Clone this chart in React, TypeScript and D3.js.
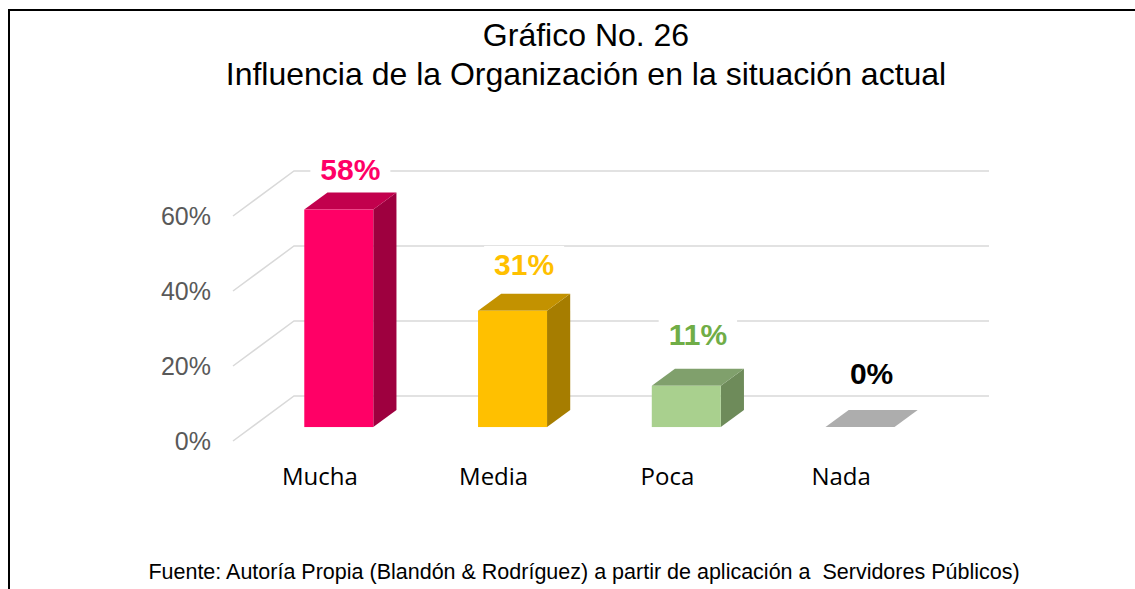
import React, { useEffect, useRef } from "react";
import * as d3 from "d3";

const categories = ["Mucha", "Media", "Poca", "Nada"];
const values = [58, 31, 11, 0];
const yTicks = [0, 20, 40, 60];

const palette = [
  { front: "#FF0066", side: "#9E003F", top: "#C2004D", label: "#FF0066" },
  { front: "#FFC000", side: "#A67D00", top: "#C39200", label: "#FFC000" },
  { front: "#A9D08E", side: "#6E8B5A", top: "#80A06C", label: "#70AD47" },
  { front: "#BFBFBF", side: "#8C8C8C", top: "#ADADAD", label: "#000000" },
];

const W = 1135;
const H = 589;

const Chart = () => {
  const ref = useRef<SVGSVGElement>(null);

  useEffect(() => {
    const svg = d3.select(ref.current);
    svg.selectAll("*").remove();

    // front plane of the 3d box
    const x = d3.scaleBand().domain(categories).range([233, 928]);
    const y = d3.scaleLinear().domain([0, 60]).range([441, 216]);
    // oblique depth offset
    const depth = { dx: 61, dy: -45 };
    const zFront = 0.31;
    const zBack = 0.69;
    const barW = 69;
    // labels are pulled a little by the perspective
    const labelY = d3.scaleLinear().domain([0, 58]).range([384, 180]);

    // frame
    svg
      .append("path")
      .attr("d", `M9,${H} L9,10 L${W},10`)
      .attr("fill", "none")
      .attr("stroke", "#000")
      .attr("stroke-width", 2);

    // titles
    const titles = ["Gráfico No. 26", "Influencia de la Organización en la situación actual"];
    svg
      .selectAll("text.title")
      .data(titles)
      .enter()
      .append("text")
      .attr("class", "title")
      .attr("x", 586)
      .attr("y", (d, i) => 46 + i * 39)
      .attr("text-anchor", "middle")
      .attr("font-family", "'Liberation Sans Narrow', 'Arial Narrow', 'Liberation Sans', sans-serif")
      .attr("font-size", 32)
      .attr("fill", "#000")
      .text((d) => d);

    // gridlines: diagonal on the side wall then across the back wall
    const grid = svg.append("g");
    yTicks.forEach((t) => {
      const y0 = y(t);
      grid
        .append("path")
        .attr(
          "d",
          `M${x.range()[0]},${y0} L${x.range()[0] + depth.dx},${y0 + depth.dy} L${x.range()[1] + depth.dx},${y0 + depth.dy}`
        )
        .attr("fill", "none")
        .attr("stroke", "#D9D9D9")
        .attr("stroke-width", 1.5);
    });

    // y tick labels
    svg
      .selectAll("text.ytick")
      .data(yTicks)
      .enter()
      .append("text")
      .attr("class", "ytick")
      .attr("x", 211)
      .attr("y", (d) => y(d) + 9)
      .attr("text-anchor", "end")
      .attr("font-family", "'Liberation Sans', Arial, sans-serif")
      .attr("font-size", 25)
      .attr("fill", "#595959")
      .text((d) => d + "%");

    // bars
    const bars = svg.append("g");
    categories.forEach((c, i) => {
      const v = values[i];
      const cx = x(c)! + x.bandwidth() / 2;
      const fx0 = cx - barW / 2 + depth.dx * zFront;
      const fx1 = fx0 + barW;
      const fyB = y(0) + depth.dy * zFront;
      const fyT = y(v) + depth.dy * zFront;
      const ddx = depth.dx * (zBack - zFront);
      const ddy = depth.dy * (zBack - zFront);
      const col = palette[i];

      // side
      bars
        .append("path")
        .attr("d", `M${fx1},${fyB} L${fx1 + ddx},${fyB + ddy} L${fx1 + ddx},${fyT + ddy} L${fx1},${fyT} Z`)
        .attr("fill", col.side);
      // top
      bars
        .append("path")
        .attr("d", `M${fx0},${fyT} L${fx1},${fyT} L${fx1 + ddx},${fyT + ddy} L${fx0 + ddx},${fyT + ddy} Z`)
        .attr("fill", col.top);
      // front
      if (v > 0) {
        bars
          .append("rect")
          .attr("x", fx0)
          .attr("y", fyT)
          .attr("width", barW)
          .attr("height", fyB - fyT)
          .attr("fill", col.front);
      }

      // value label with white box
      const lx = cx + depth.dx * 0.5;
      const ly = labelY(v);
      const lg = svg.append("g");
      const box = lg.append("rect").attr("fill", "#fff");
      const txt = lg
        .append("text")
        .attr("x", lx)
        .attr("y", ly)
        .attr("text-anchor", "middle")
        .attr("font-family", "'Liberation Sans', Arial, sans-serif")
        .attr("font-weight", "bold")
        .attr("font-size", 30)
        .attr("fill", col.label)
        .text(v + "%");
      const bb = (txt.node() as SVGTextElement).getBBox();
      box
        .attr("x", bb.x - 10)
        .attr("y", bb.y - 2)
        .attr("width", bb.width + 20)
        .attr("height", bb.height + 4);
    });

    // category labels
    svg
      .selectAll("text.cat")
      .data(categories)
      .enter()
      .append("text")
      .attr("class", "cat")
      .attr("x", (d) => x(d)! + x.bandwidth() / 2)
      .attr("y", 485)
      .attr("text-anchor", "middle")
      .attr("font-family", "'Open Sans', 'Noto Sans', sans-serif")
      .attr("font-size", 24)
      .attr("fill", "#000")
      .text((d) => d);

    // source
    svg
      .append("text")
      .attr("x", 584)
      .attr("y", 579)
      .attr("text-anchor", "middle")
      .attr("font-family", "'Liberation Sans Narrow', 'Arial Narrow', 'Liberation Sans', sans-serif")
      .attr("font-size", 21.5)
      .attr("fill", "#000")
      .style("white-space", "pre")
      .text("Fuente: Autoría Propia (Blandón & Rodríguez) a partir de aplicación a  Servidores Públicos)");
  }, []);

  return (
    <svg
      ref={ref}
      width={W}
      height={H}
      style={{ position: "absolute", left: 0, top: 0, background: "#fff" }}
    ></svg>
  );
};

export default function App() {
  return <Chart />;
}
